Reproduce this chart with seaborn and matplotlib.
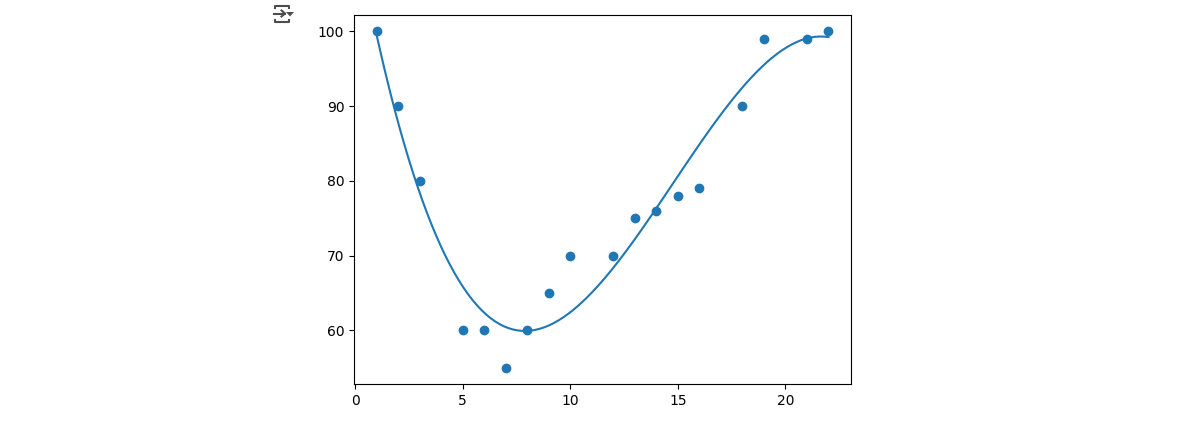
import matplotlib
matplotlib.use("Agg")
import matplotlib.pyplot as plt
from matplotlib.lines import Line2D
from matplotlib.patches import Polygon
import seaborn as sns

x = [1, 2, 3, 5, 6, 7, 8, 9, 10, 12, 13, 14, 15, 16, 18, 19, 21, 22]
y = [100, 90, 80, 60, 60, 55, 60, 65, 70, 70, 75, 76, 78, 79, 90, 99, 99, 100]

W, H = 1184, 424
ICON = "#4d4d4d"

fig = plt.figure(figsize=(W / 100, H / 100), dpi=100)
ax = fig.add_axes([354 / W, 1 - 384 / H, 497 / W, 369 / H])

# cubic fit done by seaborn itself
sns.regplot(x=x, y=y, order=3, ci=None, ax=ax, color="#1f77b4",
            scatter_kws={"s": 36, "alpha": 1, "linewidths": 1, "edgecolors": "face"},
            line_kws={"lw": 1.5})

ax.set_xlim(-0.05, 23.05)
ax.set_ylim(52.8, 102.2)
ax.set_xticks([0, 5, 10, 15, 20])
ax.set_yticks([60, 70, 80, 90, 100])


def px_line(xs, ys):
    # small output icon above the axes, given in pixels from the top left
    fig.add_artist(Line2D([v / W for v in xs], [1 - v / H for v in ys],
                          color=ICON, lw=1.5, transform=fig.transFigure))


px_line([275, 275, 289, 289], [8, 5.5, 5.5, 8])
px_line([275, 275, 289, 289], [19.5, 22, 22, 19.5])
px_line([273.5, 285], [13.5, 13.5])
px_line([281.5, 285, 281.5], [10.5, 13.5, 16.5])
fig.add_artist(Polygon([(286 / W, 1 - 12 / H), (294 / W, 1 - 12 / H), (290 / W, 1 - 16.5 / H)],
                       closed=True, color=ICON, lw=0, transform=fig.transFigure))

fig.savefig("out.png", dpi=100)
